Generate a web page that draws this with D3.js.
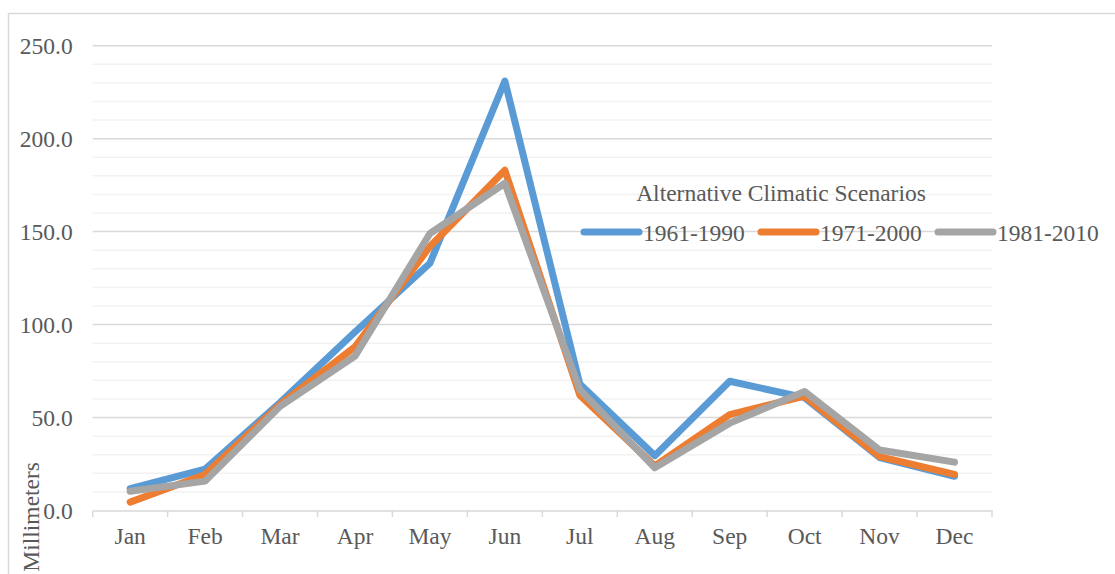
<!DOCTYPE html>
<html lang="en">
<head>
    <meta charset="UTF-8">
    <title>Alternative Climatic Scenarios</title>
    <script src="https://d3js.org/d3.v7.min.js"></script>
    <style>
        body { margin: 0; background: #fff; }
        text { font-family: "Liberation Serif", "Times New Roman", serif; fill: #595959; }
    </style>
</head>
<body>
<script>
    // data
    const months = ["Jan", "Feb", "Mar", "Apr", "May", "Jun", "Jul", "Aug", "Sep", "Oct", "Nov", "Dec"];
    const s1961 = [11.8, 22.3, 58, 96, 133, 231, 68, 29.5, 69.5, 60.7, 28.5, 18.4];
    const s1971 = [4.5, 19.4, 57, 88, 142, 183, 62, 24, 51.6, 61.5, 29, 19.4];
    const s1981 = [10.4, 15.8, 56, 83, 149, 176, 65, 23, 47, 64, 32.5, 26];
    const seriesNames = ["1961-1990", "1971-2000", "1981-2010"];
    const yTicks = [0, 50, 100, 150, 200, 250];

    const width = 1115, height = 574;
    const colors = ["#5B9BD5", "#ED7D31", "#A5A5A5"];
    const allSeries = [s1961, s1971, s1981];
    const fontSize = "23.5px";

    const svg = d3.select("body").append("svg")
        .attr("width", width)
        .attr("height", height);

    // chart frame (only top and left edges are visible)
    svg.append("rect")
        .attr("x", 8.5).attr("y", 13.5)
        .attr("width", 1200).attr("height", 700)
        .attr("fill", "none")
        .attr("stroke", "#d9d9d9")
        .attr("stroke-width", 1.5);

    const x = d3.scaleBand().domain(months).range([92.7, 992]);
    const y = d3.scaleLinear().domain([0, 250]).range([510.5, 45.7]);

    // minor gridlines
    svg.append("g").selectAll("line")
        .data(d3.range(10, 250, 10).filter(v => v % 50 !== 0))
        .enter().append("line")
        .attr("x1", 92.7).attr("x2", 992)
        .attr("y1", d => y(d)).attr("y2", d => y(d))
        .attr("stroke", "#f2f2f2").attr("stroke-width", 1.5);

    // major gridlines
    svg.append("g").selectAll("line")
        .data(yTicks.slice(1))
        .enter().append("line")
        .attr("x1", 92.7).attr("x2", 992)
        .attr("y1", d => y(d)).attr("y2", d => y(d))
        .attr("stroke", "#d9d9d9").attr("stroke-width", 1.5);

    // y axis labels
    const yAxis = svg.append("g")
        .attr("transform", "translate(92.7,0)")
        .call(d3.axisLeft(y).tickValues(yTicks).tickFormat(d3.format(".1f")).tickSize(0).tickPadding(20));
    yAxis.select(".domain").remove();
    yAxis.selectAll("text")
        .style("font-size", fontSize)
        .attr("fill", "#595959")
        .attr("dy", "0.32em");

    // x axis
    const xAxis = svg.append("g")
        .attr("transform", "translate(0,510.5)")
        .call(d3.axisBottom(x).tickSize(0).tickPadding(17));
    xAxis.select(".domain").attr("stroke", "#d9d9d9").attr("stroke-width", 1.5);
    xAxis.selectAll("text").style("font-size", fontSize).attr("fill", "#595959");
    // category boundary ticks
    svg.append("g").selectAll("line")
        .data(months.concat(["end"]))
        .enter().append("line")
        .attr("x1", (d, i) => 92.7 + i * x.step())
        .attr("x2", (d, i) => 92.7 + i * x.step())
        .attr("y1", 510.5).attr("y2", 517)
        .attr("stroke", "#d9d9d9").attr("stroke-width", 1.5);

    // axis title
    svg.append("text")
        .attr("transform", "translate(39,462) rotate(-90)")
        .attr("text-anchor", "end")
        .style("font-size", fontSize)
        .text("Millimeters");

    // lines
    const line = d3.line()
        .x((d, i) => x(months[i]) + x.bandwidth() / 2)
        .y(d => y(d));

    svg.append("g").selectAll("path")
        .data(allSeries)
        .enter().append("path")
        .attr("d", line)
        .attr("fill", "none")
        .attr("stroke", (d, i) => colors[i])
        .attr("stroke-width", 7)
        .attr("stroke-linejoin", "round")
        .attr("stroke-linecap", "round");

    // legend
    svg.append("text")
        .attr("x", 781).attr("y", 201)
        .attr("text-anchor", "middle")
        .style("font-size", fontSize)
        .text("Alternative Climatic Scenarios");

    const legend = svg.append("g").selectAll("g")
        .data(seriesNames)
        .enter().append("g")
        .attr("transform", (d, i) => `translate(${584 + i * 177},232)`);
    legend.append("line")
        .attr("x1", 0).attr("x2", 55)
        .attr("stroke", (d, i) => colors[i])
        .attr("stroke-width", 7)
        .attr("stroke-linecap", "round");
    legend.append("text")
        .attr("x", 59).attr("y", 9)
        .style("font-size", fontSize)
        .text(d => d);
</script>
</body>
</html>
